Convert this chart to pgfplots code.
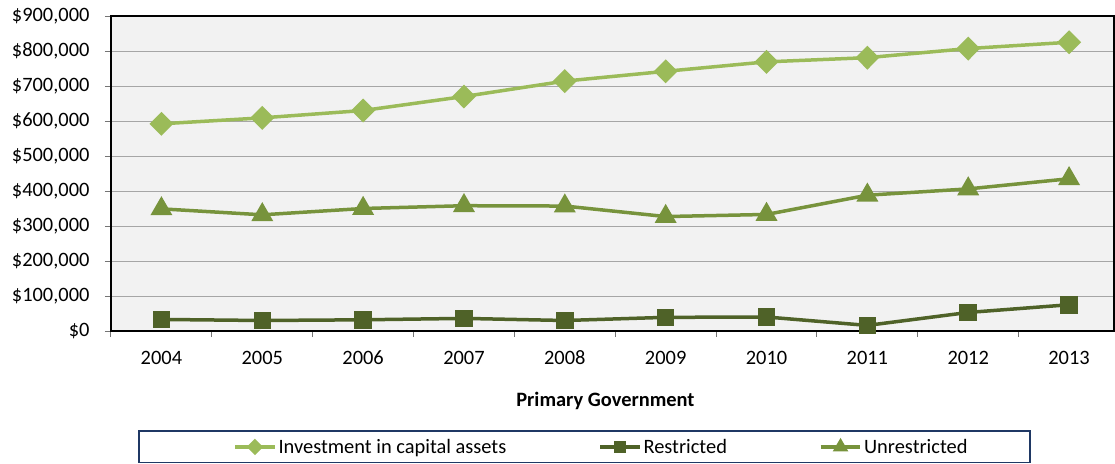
\documentclass[border=0pt]{standalone}
\usepackage{fontspec}
\setmainfont{Carlito}
\usepackage{pgfplots}
\pgfplotsset{compat=1.18}
\definecolor{cInv}{HTML}{9BBB59}
\definecolor{cRes}{HTML}{4F6228}
\definecolor{cUnr}{HTML}{77933C}
\definecolor{gridc}{HTML}{A6A6A6}
\definecolor{bgc}{HTML}{F2F2F2}
\definecolor{navy}{HTML}{1F3864}
\begin{document}
\begin{tikzpicture}
\begin{axis}[
  at={(0,0)}, anchor=south west,
  scale only axis, width=1003bp, height=315bp,
  xmin=-0.5, xmax=9.445, ymin=0, ymax=900000,
  axis background/.style={fill=bgc},
  xtick={0,...,9},
  xticklabels={2004,2005,2006,2007,2008,2009,2010,2011,2012,2013},
  minor xtick={-0.5,0.5,...,9.5},
  ytick={0,100000,...,900000},
  scaled y ticks=false,
  yticklabels={{\$0},{\$100,000},{\$200,000},{\$300,000},{\$400,000},{\$500,000},{\$600,000},{\$700,000},{\$800,000},{\$900,000}},
  ymajorgrids, grid style={gridc, line width=1bp},
  tick pos=left, tick align=outside,
  major tick length=6bp, minor tick length=6bp,
  tick style={gridc!70!black, line width=1bp},
  major x tick style={draw=none},
  axis line style={black, line width=1.2bp},
  ticklabel style={font=\fontsize{20.5}{24}\selectfont},
  yticklabel style={xshift=-12bp},
  xticklabel style={yshift=-18bp, text height=0.62em, text depth=0pt},
  xlabel={\textbf{Primary Government}},
  xlabel style={font=\fontsize{20.5}{24}\selectfont, at={(axis description cs:0.493,-0.222)}, anchor=center},
  legend columns=3,
  legend style={at={(0.489,-0.368)}, anchor=center, draw=none, fill=none,
    font=\fontsize{20.5}{24}\selectfont,
    /tikz/every even column/.append style={column sep=90bp}},
  legend image code/.code={\draw[mark repeat=2,mark phase=2,/tikz/every mark/.append style={scale=0.6}] plot coordinates {(0cm,0cm)(0.7cm,0cm)(1.4cm,0cm)};},
  clip=false,
]
\addplot[cInv, line width=3.5bp, mark=diamond*, mark size=9.5bp, mark options={solid, fill=cInv, xscale=1.33}]
 coordinates {(0,592000)(1,609000)(2,630000)(3,670000)(4,714000)(5,742000)(6,769000)(7,781000)(8,807000)(9,825000)};
\addlegendentry{Investment in capital assets}
\addplot[cRes, line width=3.5bp, mark=square*, mark size=7bp, mark options={solid, fill=cRes}]
 coordinates {(0,33000)(1,30000)(2,32000)(3,36000)(4,30000)(5,39000)(6,40000)(7,16000)(8,53000)(9,75000)};
\addlegendentry{Restricted}
\addplot[cUnr, line width=3.5bp, mark=triangle*, mark size=9.2bp, mark options={solid, fill=cUnr}]
 coordinates {(0,349000)(1,332000)(2,350000)(3,358000)(4,357000)(5,327000)(6,333000)(7,388000)(8,406000)(9,435000)};
\addlegendentry{Unrestricted}
\end{axis}
\draw[navy, line width=1.5bp] (28bp,-100bp) rectangle (919bp,-131.5bp);
\pgfresetboundingbox
\useasboundingbox (-111bp,-133bp) rectangle (1004bp,331bp);
\end{tikzpicture}
\end{document}
